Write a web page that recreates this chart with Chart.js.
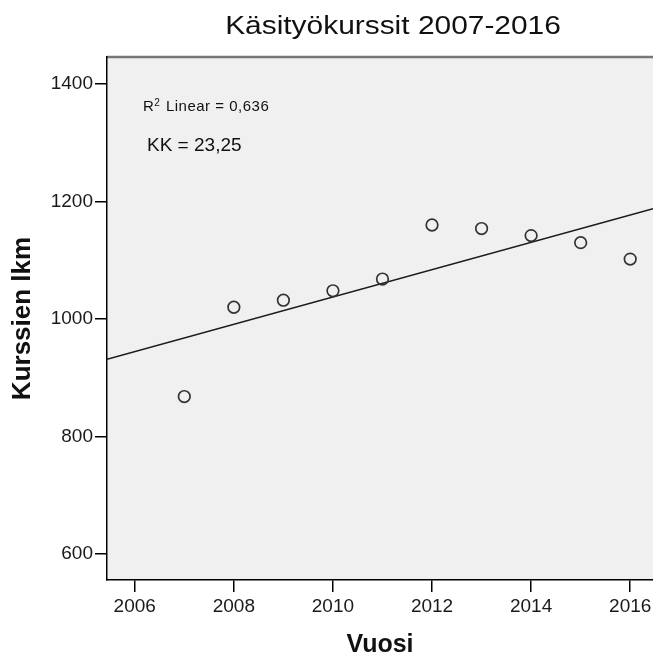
<!DOCTYPE html>
<html lang="fi">
<head>
    <meta charset="UTF-8">
    <title>Käsityökurssit 2007-2016</title>
    <script src="https://cdn.jsdelivr.net/npm/chart.js"></script>
    <style>
        * {
            margin: 0;
            padding: 0;
            box-sizing: border-box;
        }
        body {
            background-color: #fff;
            width: 653px;
            height: 658px;
            overflow: hidden;
        }
    </style>
</head>
<body>
    <canvas id="courses-chart" width="653" height="658"></canvas>
    <script>
        var years = [2007, 2008, 2009, 2010, 2011, 2012, 2013, 2014, 2015, 2016];
        var courses = [868, 1020, 1032, 1048, 1068, 1160, 1154, 1142, 1130, 1102];
        var xTicks = [2006, 2008, 2010, 2012, 2014, 2016];
        var yTicks = [600, 800, 1000, 1200, 1400];

        var xMin = 2005.44, xMax = 2016.46;
        var yMin = 555.7, yMax = 1446;

        // linear fit (least squares) from the data
        var n = years.length, mx = 0, my = 0;
        for (var i = 0; i < n; i++) { mx += years[i] / n; my += courses[i] / n; }
        var sxy = 0, sxx = 0;
        for (var i = 0; i < n; i++) {
            sxy += (years[i] - mx) * (courses[i] - my);
            sxx += (years[i] - mx) * (years[i] - mx);
        }
        var slope = sxy / sxx;
        var intercept = my - slope * mx;
        var fitLine = [
            { x: xMin, y: intercept + slope * xMin },
            { x: xMax, y: intercept + slope * xMax }
        ];

        var points = years.map(function (y, i) { return { x: y, y: courses[i] }; });

        var FONT = '"Liberation Sans", Arial, sans-serif';

        var plotFrame = {
            id: 'plotFrame',
            beforeDraw: function (chart) {
                var ctx = chart.ctx, a = chart.chartArea;
                ctx.save();
                ctx.fillStyle = '#f0f0f0';
                ctx.fillRect(a.left, a.top, a.right - a.left, a.bottom - a.top);
                ctx.strokeStyle = '#777';
                ctx.lineWidth = 2.5;
                ctx.beginPath();
                ctx.moveTo(a.left, a.top);
                ctx.lineTo(a.right, a.top);
                ctx.stroke();
                ctx.restore();
            },
            afterDraw: function (chart) {
                var ctx = chart.ctx, a = chart.chartArea;
                ctx.save();
                ctx.fillStyle = '#111';
                ctx.textBaseline = 'alphabetic';

                // title, a little wider than plain Arial
                ctx.save();
                ctx.font = '26px ' + FONT;
                ctx.textAlign = 'center';
                ctx.translate(393, 33.5);
                ctx.scale(1.15, 1);
                ctx.fillText('Käsityökurssit 2007-2016', 0, 0);
                ctx.restore();

                ctx.textAlign = 'left';
                var x = a.left + 36;
                ctx.font = '15px ' + FONT;
                ctx.fillText('R', x, 111);
                x += ctx.measureText('R').width + 0.5;
                ctx.font = '10px ' + FONT;
                ctx.fillText('2', x, 105.5);
                x += ctx.measureText('2').width + 6;
                ctx.font = '15px ' + FONT;
                ctx.letterSpacing = '0.5px';
                ctx.fillText('Linear = 0,636', x, 111);
                ctx.letterSpacing = '0px';

                ctx.font = '19px ' + FONT;
                ctx.fillText('KK = 23,25', a.left + 40, 150.5);
                ctx.restore();
            }
        };

        var ctx = document.getElementById('courses-chart').getContext('2d');
        var coursesChart = new Chart(ctx, {
            type: 'scatter',
            data: {
                datasets: [{
                    label: 'Kurssien lkm',
                    data: points,
                    pointStyle: 'circle',
                    pointRadius: 5.8,
                    pointBorderWidth: 1.7,
                    borderColor: '#333',
                    backgroundColor: 'rgba(0,0,0,0)',
                    order: 1
                }, {
                    label: 'Linear',
                    type: 'line',
                    data: fitLine,
                    borderColor: '#1a1a1a',
                    borderWidth: 1.5,
                    pointRadius: 0,
                    fill: false,
                    order: 2
                }]
            },
            options: {
                responsive: false,
                animation: false,
                devicePixelRatio: 1,
                layout: { autoPadding: false, padding: { top: 57, right: 0, left: 0, bottom: 0 } },
                plugins: {
                    legend: { display: false },
                    tooltip: { enabled: false }
                },
                scales: {
                    x: {
                        type: 'linear',
                        min: xMin,
                        max: xMax,
                        afterBuildTicks: function (axis) {
                            axis.ticks = xTicks.map(function (v) { return { value: v }; });
                        },
                        afterFit: function (axis) {
                            axis.height = 78;
                            axis.paddingLeft = 0;
                            axis.paddingRight = 0;
                        },
                        grid: { drawOnChartArea: false, drawTicks: true, tickLength: 12, color: '#000', lineWidth: 1.5 },
                        border: { display: true, color: '#000', width: 1.5 },
                        ticks: {
                            padding: 3,
                            color: '#1a1a1a',
                            maxRotation: 0,
                            font: { family: FONT, size: 19 },
                            callback: function (v) { return String(v); }
                        },
                        title: {
                            display: true,
                            text: 'Vuosi',
                            color: '#111',
                            padding: { top: 0, bottom: 0 },
                            font: { family: FONT, size: 25, weight: 'bold', lineHeight: 1 }
                        }
                    },
                    y: {
                        type: 'linear',
                        min: yMin,
                        max: yMax,
                        afterBuildTicks: function (axis) {
                            axis.ticks = yTicks.map(function (v) { return { value: v }; });
                        },
                        afterFit: function (axis) { axis.width = 107; },
                        grid: { drawOnChartArea: false, drawTicks: true, tickLength: 12, color: '#000', lineWidth: 1.5 },
                        border: { display: true, color: '#000', width: 1.5 },
                        ticks: {
                            padding: 2,
                            color: '#1a1a1a',
                            font: { family: FONT, size: 19 },
                            callback: function (v) { return String(v); }
                        },
                        title: {
                            display: true,
                            text: 'Kurssien lkm',
                            color: '#111',
                            padding: { top: 10, bottom: 0 },
                            font: { family: FONT, size: 26, weight: 'bold', lineHeight: 1 }
                        }
                    }
                }
            },
            plugins: [plotFrame]
        });
    </script>
</body>
</html>
